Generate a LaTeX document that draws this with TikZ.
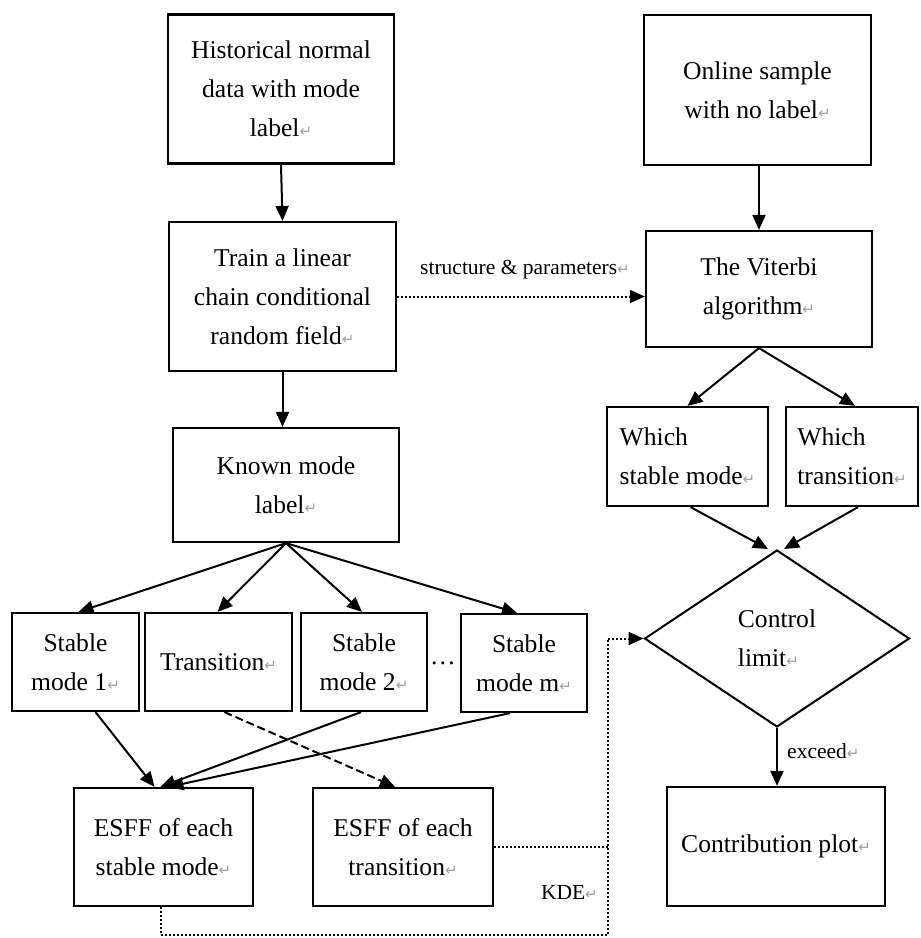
\documentclass[tikz,border=0pt]{standalone}
\usepackage{fontspec}
\setmainfont{Liberation Serif}
\newfontfamily\symfont{DejaVu Sans}
\usetikzlibrary{shapes.geometric,arrows.meta}
\definecolor{rmgray}{HTML}{A0A0A0}
\newcommand{\rmk}{{\symfont\fontsize{15}{15}\selectfont\color{rmgray}↵}}
\begin{document}
\begin{tikzpicture}[x=1pt,y=-1pt,
  box/.style={draw,line width=2.2pt,rectangle,inner sep=0pt,align=center,font=\fontsize{25.6}{39}\selectfont},
  arr/.style={line width=2pt,-{Triangle[length=15pt,width=13pt]}},
  dotl/.style={line width=2pt,dash pattern=on 2pt off 2pt},
  dashl/.style={line width=2pt,dash pattern=on 8pt off 4pt},
  lbl/.style={font=\fontsize{21.5}{26}\selectfont,inner sep=0pt}]
\useasboundingbox (0,0) rectangle (921,938);

% left column
\node[box,minimum width=226pt,minimum height=149pt] (hist) at (281,89) {Historical normal\\data with mode\\label\rmk};
\node[box,minimum width=227pt,minimum height=149pt] (train) at (282.5,296.5) {Train a linear\\chain conditional\\random field\rmk};
\node[box,minimum width=226pt,minimum height=114pt] (known) at (286,485) {Known mode\\label\rmk};

\node[box,minimum width=127pt,minimum height=98pt] (s1) at (75.5,662) {Stable\\mode 1\rmk};
\node[box,minimum width=147pt,minimum height=98pt] (tr) at (218.5,662) {Transition\rmk};
\node[box,minimum width=126pt,minimum height=98pt] (s2) at (364,662) {Stable\\mode 2\rmk};
\node[box,minimum width=126pt,minimum height=98pt] (sm) at (524,663) {Stable\\mode m\rmk};
\node[inner sep=0pt,font=\fontsize{25.6}{39}\selectfont] (dots) at (443,663) {\dots};

\node[box,minimum width=179pt,minimum height=118pt] (esffS) at (163.5,847) {ESFF of each\\stable mode\rmk};
\node[box,minimum width=180pt,minimum height=118pt] (esffT) at (403,847) {ESFF of each\\transition\rmk};

% right column
\node[box,minimum width=227pt,minimum height=150pt] (online) at (757.5,90) {Online sample\\with no label\rmk};
\node[box,minimum width=226pt,minimum height=116pt] (vit) at (759,289) {The Viterbi\\algorithm\rmk};
\node[box,align=left,minimum width=161pt,minimum height=99pt] (wsm) at (687.5,456.5) {Which\\stable mode\rmk};
\node[box,align=left,minimum width=132pt,minimum height=99pt] (wtr) at (852,456.5) {Which\\transition\rmk};
\node[draw,diamond,line width=2pt,inner sep=0pt,minimum width=265pt,minimum height=177pt,align=left,font=\fontsize{25.6}{39}\selectfont] (cl) at (777,638.5) {Control\\limit\rmk};
\node[box,minimum width=218pt,minimum height=119pt] (contrib) at (776,846.5) {Contribution plot\rmk};

% connectors left
\draw[arr] (hist.south) -- (train.north);
\draw[arr] (train.south) -- (train.south |- known.north);
\draw[arr] (known.south) -- ([xshift=3pt]s1.north);
\draw[arr] (known.south) -- ([xshift=-1pt]tr.north);
\draw[arr] (known.south) -- ([xshift=-2pt]s2.north);
\draw[arr] (known.south) -- ([xshift=-7pt]sm.north);

\draw[arr] ([xshift=20pt]s1.south) -- ([xshift=-9pt]esffS.north);
\draw[arr] ([xshift=-3pt]s2.south) -- ([xshift=-3pt]esffS.north);
\draw[arr] ([xshift=-14pt]sm.south) -- ([xshift=5pt]esffS.north);
\draw[dashl,-{Triangle[length=15pt,width=13pt]}] ([xshift=6pt]tr.south) -- ([xshift=-8pt]esffT.north);

% connectors right
\draw[arr] (vit.north |- online.south) -- (vit.north);
\draw[arr] (vit.south) -- (wsm.north);
\draw[arr] (vit.south) -- ([xshift=3pt]wtr.north);
\draw[arr] ([xshift=3pt]wsm.south) -- ([xshift=-9pt]cl.north);
\draw[arr] ([xshift=6pt]wtr.south) -- ([xshift=7pt]cl.north);
\draw[arr] (cl.south) -- (cl.south |- contrib.north);
\node[lbl,anchor=west] (exc) at (787,751) {exceed\rmk};

% dotted links
\draw[dotl,-{Triangle[length=15pt,width=13pt]}] (train.east) -- (train.east -| vit.west);
\node[lbl] (sp) at (525,270) {structure \& parameters\rmk};

\coordinate (kb) at (608,935);
\draw[dotl,-{Triangle[length=15pt,width=13pt]}] ([xshift=-3pt]esffS.south) -- ([xshift=-3pt]esffS.south |- kb) -- (kb) -- (kb |- cl.west) -- (cl.west);
\draw[dotl] (esffT.east) -- (esffT.east -| kb);
\node[lbl,anchor=east] (kde) at (598,892) {KDE\rmk};
\end{tikzpicture}
\end{document}
